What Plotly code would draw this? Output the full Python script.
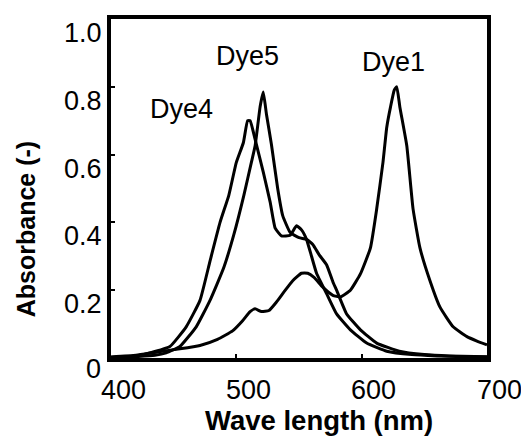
import plotly.graph_objects as go

# ---- data (wavelength nm, absorbance) ----
dye1_nm = [400, 420, 437, 455, 471, 485, 497, 505, 511, 515, 520, 526, 532, 538, 545, 552, 557, 562,
           569, 577, 583, 591, 599, 607, 612, 617, 620, 623, 626, 628, 630.5, 636, 641, 646.5, 654.5,
           662.5, 673, 684, 692, 700]
dye1_abs = [0.003, 0.008, 0.018, 0.027, 0.037, 0.055, 0.08, 0.11, 0.137, 0.145, 0.137, 0.14, 0.165,
            0.195, 0.228, 0.25, 0.25, 0.238, 0.209, 0.185, 0.18, 0.2, 0.248, 0.325, 0.44, 0.577, 0.68,
            0.74, 0.79, 0.80, 0.74, 0.626, 0.44, 0.325, 0.228, 0.15, 0.092, 0.063, 0.05, 0.039]

dye4_nm = [400, 420, 431, 447, 460, 471, 479, 487, 494, 500, 505.6, 509, 511, 515, 521.5, 527, 531,
           536, 543, 548, 552, 556, 560, 564, 572, 580, 591, 604, 620, 640, 660, 680, 700]
dye4_abs = [0.002, 0.006, 0.015, 0.034, 0.092, 0.17, 0.286, 0.40, 0.48, 0.577, 0.635, 0.70, 0.70,
            0.645, 0.548, 0.46, 0.383, 0.36, 0.362, 0.39, 0.378, 0.35, 0.30, 0.25, 0.19, 0.13, 0.083,
            0.044, 0.02, 0.01, 0.006, 0.004, 0.003]

dye5_nm = [400, 420, 435, 444, 455, 468, 479, 490, 498, 506, 512, 515, 519, 521.5, 524, 528, 533,
           537, 543, 550, 556, 561, 566, 572, 577, 580, 588, 599, 612, 630, 650, 670, 700]
dye5_abs = [0.001, 0.004, 0.008, 0.015, 0.034, 0.092, 0.17, 0.267, 0.364, 0.48, 0.577, 0.626, 0.742,
            0.785, 0.72, 0.63, 0.50, 0.42, 0.37, 0.355, 0.35, 0.335, 0.305, 0.275, 0.225, 0.20, 0.13,
            0.083, 0.044, 0.02, 0.01, 0.006, 0.004]

x_ticks = [400, 500, 600, 700]
x_tick_labels = ["400", "500", "600", "700"]
y_ticks = [0.2, 0.4, 0.6, 0.8, 1.0]
y_tick_labels = ["0.2", "0.4", "0.6", "0.8", "1.0"]
zero_label = "0"

dye_names = ["Dye1", "Dye4", "Dye5"]
dye_label_x = [625, 456, 509]
dye_label_y = [0.873, 0.734, 0.891]

FONT = "Liberation Sans, Arial, sans-serif"
fig = go.Figure()
for nm, ab, name in [(dye1_nm, dye1_abs, "Dye1"), (dye4_nm, dye4_abs, "Dye4"), (dye5_nm, dye5_abs, "Dye5")]:
    fig.add_trace(go.Scatter(x=nm, y=ab, mode="lines", name=name,
                             line=dict(color="black", width=3, shape="spline", smoothing=0.4),
                             showlegend=False))

ann = []
for v, t in zip(x_ticks, x_tick_labels):
    ann.append(dict(x=v, y=0, xref="x", yref="paper", text=t, showarrow=False,
                    xanchor="center", yanchor="middle", xshift=12, yshift=-32,
                    font=dict(family=FONT, size=27, color="black")))
for v, t in zip(y_ticks, y_tick_labels):
    ann.append(dict(x=0, y=v, xref="paper", yref="y", text=t, showarrow=False,
                    xanchor="right", yanchor="middle", xshift=-7, yshift=-14,
                    font=dict(family=FONT, size=27, color="black")))
ann.append(dict(x=0, y=0, xref="paper", yref="y", text=zero_label, showarrow=False,
                xanchor="center", yanchor="middle", xshift=-18, yshift=-11,
                font=dict(family=FONT, size=27, color="black")))
for n, xx, yy in zip(dye_names, dye_label_x, dye_label_y):
    ann.append(dict(x=xx, y=yy, xref="x", yref="y", text=n, showarrow=False,
                    xanchor="center", yanchor="middle",
                    font=dict(family=FONT, size=27, color="black")))
ann.append(dict(x=0.553, y=-0.185, xref="paper", yref="paper", text="<b>Wave length (nm)</b>",
                showarrow=False, xanchor="center", yanchor="middle",
                font=dict(family=FONT, size=27.5, color="black")))
ann.append(dict(x=-0.226, y=0.38, xref="paper", yref="paper", text="<b>Absorbance (-)</b>",
                showarrow=False, xanchor="center", yanchor="middle", textangle=-90,
                font=dict(family=FONT, size=25, color="black")))

# page body has an 8px margin; size and margins compensate for it
fig.update_layout(
    width=521, height=430,
    margin=dict(l=103, r=42, t=7, b=80),
    paper_bgcolor="white", plot_bgcolor="white",
    annotations=ann,
    xaxis=dict(range=[400, 700], tickvals=x_ticks, showticklabels=False, ticks="inside",
               ticklen=4, tickwidth=1.5, tickcolor="black", showline=True, linecolor="black",
               linewidth=3.5, mirror=True, showgrid=False, zeroline=False),
    yaxis=dict(range=[0, 1.0], tickvals=y_ticks, showticklabels=False, ticks="inside",
               ticklen=4, tickwidth=1.5, tickcolor="black", showline=True, linecolor="black",
               linewidth=3.5, mirror=True, showgrid=False, zeroline=False),
)
fig.write_html("out.html")
